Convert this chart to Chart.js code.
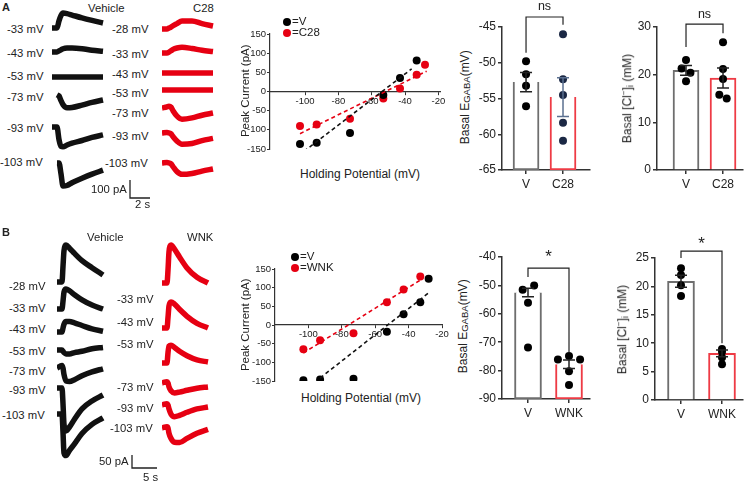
<!DOCTYPE html>
<html>
<head>
<meta charset="utf-8">
<script src="https://cdn.jsdelivr.net/npm/chart.js@4.4.1/dist/chart.umd.min.js"></script>
<style>
  body { margin: 0; background: #fff; }
  #fig { position: relative; width: 750px; height: 482px; overflow: hidden; font-family: "Liberation Sans", Arial, sans-serif; color: #222; }
  #fig canvas { position: absolute; }
  .t { position: absolute; white-space: nowrap; line-height: 1; }
  .dot { display: inline-block; width: 8px; height: 8px; border-radius: 50%; vertical-align: -1px; margin-right: 1px; }
</style>
</head>
<body>
<div id="fig"></div>
<script>
// ---- trace data (pA) ----
const aTime = [0, 0.5, 0.7, 0.9, 1.1, 1.5, 2.0, 3.0, 4.0, 5.1];      // s
const aVehMv = [-33, -43, -53, -73, -93, -103];
const aVehTraces = [
  [0, 0, 40, 70, 83, 80, 72, 56, 42, 28],
  [0, 0, 6, 12, 18, 22, 22, 18, 10, 4],
  [0, 0, 0, 0, 0, 0, 0, 0, 0, 0],
  [null, 12, 6, -20, -42, -60, -58, -45, -30, -17],
  [0, 0, -70, -108, -110, -100, -90, -75, -58, -44],
  [null, 0, 0, -60, -128, -125, -110, -85, -62, -40]
];
const aC28Mv = [-28, -33, -43, -53, -73, -93, -103];
const aC28Traces = [
  [0, 0, 5, 10, 18, 30, 45, 45, 30, 17],
  [0, 0, 5, 12, 20, 28, 32, 25, 15, 8],
  [0, 0, 0, 0, 0, 0, 0, 0, 0, 0],
  [0, 0, 0, 0, 0, 0, 0, 0, 0, 0],
  [0, 6, 10, 5, -15, -45, -62, -55, -40, -28],
  [0, 3, 0, -5, -20, -45, -62, -58, -42, -30],
  [0, 3, 0, -5, -20, -48, -63, -58, -45, -33]
];
const bTime = [0, 1.0, 1.2, 1.4, 1.8, 2.5, 3.5, 5.0, 7.0, 9.2];      // s
const bVehMv = [-28, -33, -43, -53, -73, -93, -103];
const bVehTraces = [
  [0, 0, 60, 120, 142, 130, 110, 82, 55, 27],
  [0, 0, 30, 65, 77, 70, 55, 35, 15, 0],
  [0, 0, 15, 30, 40, 40, 35, 25, 12, 3],
  [0, 0, -5, -10, -15, -15, -10, -5, 5, 10],
  [0, 10, 0, -25, -50, -52, -45, -30, -15, -3],
  [0, 0, -60, -140, -165, -150, -120, -80, -50, -27],
  [0, 0, -70, -150, -160, -140, -115, -75, -40, -15]
];
const bWnkMv = [-33, -43, -53, -73, -93, -103];
const bWnkTraces = [
  [0, 0, 50, 120, 146, 130, 100, 58, 22, 0],
  [0, 0, 40, 85, 100, 92, 72, 45, 18, 0],
  [0, 0, 40, 65, 68, 60, 45, 28, 12, 4],
  [0, 5, 0, -15, -30, -38, -35, -28, -20, -15],
  [0, 5, 0, -15, -35, -45, -40, -28, -15, -8],
  [0, 5, 0, -20, -40, -55, -56, -40, -20, -5]
];

// ---- I-V data ----
const ivXTicks = [-100, -80, -60, -40, -20];
const ivYTicks = [-150, -100, -50, 0, 50, 100, 150];
const ivAVoltV = [-103, -93, -73, -53, -43, -33];
const ivACurV = [-137, -134, -108, -9, 35, 81];
const ivAVoltC28 = [-103, -93, -73, -53, -43, -33, -28];
const ivACurC28 = [-90, -86, -71, -18, 8, 44, 70];
const ivAFitV = [[-100.6, -156], [-36, 59]];
const ivAFitC28 = [[-103, -110], [-27, 53]];
const ivBVoltV = [-103, -93, -73, -53, -43, -33, -28];
const ivBCurV = [-148, -146, -144, -18, 29, 61, 124];
const ivBVoltW = [-103, -93, -73, -53, -43, -33];
const ivBCurW = [-65, -41, -22, 61, 95, 130];
const ivBFitV = [[-93, -142], [-28, 86]];
const ivBFitW = [[-103, -75], [-32, 123]];

// ---- bar data ----
const aGroups = ['V', 'C28'];
const bGroups = ['V', 'WNK'];
const aEgabaTicks = [-65, -60, -55, -50, -45];
const aEgabaMean = [-52.7, -54.8];
const aEgabaSem = [1.35, 2.7];
const aEgabaV = [-49.8, -51.6, -53.2, -56.1];
const aEgabaC28 = [-46.0, -52.3, -54.5, -58.4, -60.9];
const aClTicks = [0, 10, 20, 30];
const aClMean = [20.9, 19.3];
const aClSem = [1.0, 2.1];
const aClV = [23.1, 21.3, 20.4, 18.6];
const aClC28 = [26.8, 21.2, 19.1, 15.8, 15.0];
const bEgabaTicks = [-90, -80, -70, -60, -50, -40];
const bEgabaMean = [-52.5, -77.8];
const bEgabaSem = [1.5, 1.5];
const bEgabaV = [-51.5, -50.0, -56.1, -71.9];
const bEgabaWnk = [-76.1, -74.9, -76.1, -80.2, -85.1];
const bClTicks = [0, 5, 10, 15, 20, 25];
const bClMean = [20.9, 8.2];
const bClSem = [1.05, 0.6];
const bClV = [23.2, 22.0, 20.2, 18.3];
const bClWnk = [9.0, 8.5, 7.5, 6.3];

const RED = '#e60012';
const AX = '#333';
const FONT = '"Liberation Sans", Arial, sans-serif';
Chart.defaults.font.family = FONT;
Chart.defaults.animation = false;
Chart.defaults.events = [];
Chart.defaults.plugins.legend.display = false;
Chart.defaults.plugins.tooltip.enabled = false;

const fig = document.getElementById('fig');

function makeCanvas(b) {
  const c = document.createElement('canvas');
  c.width = b.w; c.height = b.h;
  c.style.left = b.x + 'px'; c.style.top = b.y + 'px';
  fig.appendChild(c);
  return c;
}

// text placed by anchor point; positions rounded to whole pixels so it stays crisp
function txt(html, x, y, align, size, rotate) {
  const d = document.createElement('div');
  d.className = 't';
  d.innerHTML = html;
  d.style.fontSize = (size || 11.3) + 'px';
  fig.appendChild(d);
  const w = d.offsetWidth, h = d.offsetHeight;
  const dx = align === 'right' ? w : align === 'center' ? w / 2 : 0;
  const left = rotate ? x - w / 2 : x - dx;
  d.style.left = Math.round(left) + 'px';
  d.style.top = Math.round(y - h / 2) + 'px';
  if (rotate) d.style.transform = 'rotate(-90deg)';
  return d;
}

// stacked current traces, each row shifted to its baseline pixel
function traceChart(b, time, traces, rows, color, pxS, pxPA, bar) {
  const datasets = traces.map((tr, k) => ({
    data: time.map((t, i) => ({ x: t, y: tr[i] === null ? null : tr[i] - (rows[k] - b.y) / pxPA })),
    borderColor: color, borderWidth: 5.5, pointRadius: 0,
    cubicInterpolationMode: 'monotone', clip: false
  }));
  if (bar) {
    const bx = (bar.x - b.x) / pxS, by = -(bar.y - b.y) / pxPA;
    datasets.push({
      data: [{ x: bx, y: by + bar.pA }, { x: bx, y: by }, { x: bx + bar.s, y: by }],
      borderColor: '#222', borderWidth: 1.3, pointRadius: 0, tension: 0, clip: false
    });
  }
  new Chart(makeCanvas(b), {
    type: 'line',
    data: { datasets },
    options: {
      responsive: false,
      layout: { padding: 0 },
      scales: {
        x: { type: 'linear', display: false, min: 0, max: b.w / pxS },
        y: { type: 'linear', display: false, min: -b.h / pxPA, max: 0 }
      }
    }
  });
}

function ivChart(b, xMin, xMax, sets, fits) {
  const datasets = [];
  fits.forEach(f => datasets.push({
    type: 'line', data: f.pts.map(p => ({ x: p[0], y: p[1] })),
    borderColor: f.color, borderWidth: 1.6, borderDash: [4, 3], pointRadius: 0, tension: 0
  }));
  sets.forEach(s => datasets.push({
    type: 'scatter', data: s.x.map((v, i) => ({ x: v, y: s.y[i] })),
    pointRadius: 4, pointBackgroundColor: s.color, pointBorderWidth: 0
  }));
  const tickFont = { size: 9.5 };
  new Chart(makeCanvas(b), {
    type: 'scatter',
    data: { datasets },
    options: {
      responsive: false,
      layout: { padding: 10 },
      scales: {
        x: {
          type: 'linear', position: { y: 0 }, min: xMin, max: xMax,
          afterBuildTicks: s => { s.ticks = ivXTicks.map(v => ({ value: v })); },
          ticks: { font: tickFont, color: '#222', padding: 1, maxRotation: 0 },
          grid: { drawOnChartArea: false, tickLength: 3, color: AX },
          border: { color: AX, width: 1.2 }
        },
        y: {
          type: 'linear', min: -150, max: 150,
          afterBuildTicks: s => { s.ticks = ivYTicks.map(v => ({ value: v })); },
          afterFit: s => { s.width = 30; },
          ticks: { font: tickFont, color: '#222', padding: 1 },
          grid: { drawOnChartArea: false, tickLength: 3, color: AX },
          border: { color: AX, width: 1.2 }
        }
      }
    }
  });
}

const barExtras = {
  id: 'barExtras',
  afterDatasetsDraw(chart, args, o) {
    const { ctx } = chart;
    const x = chart.scales.x, y = chart.scales.y;
    ctx.save();
    ctx.lineWidth = 1.5;
    o.means.forEach((m, i) => {
      const px = x.getPixelForValue(i);
      const hi = y.getPixelForValue(m + o.sems[i]), lo = y.getPixelForValue(m - o.sems[i]);
      ctx.strokeStyle = o.errColors[i];
      ctx.beginPath();
      ctx.moveTo(px, hi); ctx.lineTo(px, lo);
      ctx.moveTo(px - 6, hi); ctx.lineTo(px + 6, hi);
      ctx.moveTo(px - 6, lo); ctx.lineTo(px + 6, lo);
      ctx.stroke();
    });
    const br = o.bracket;
    const x0 = x.getPixelForValue(0), x1 = x.getPixelForValue(1);
    ctx.strokeStyle = '#222';
    ctx.lineWidth = 1.2;
    ctx.beginPath();
    ctx.moveTo(x0, y.getPixelForValue(br.left));
    ctx.lineTo(x0, y.getPixelForValue(br.top));
    ctx.lineTo(x1, y.getPixelForValue(br.top));
    ctx.lineTo(x1, y.getPixelForValue(br.right));
    ctx.stroke();
    ctx.fillStyle = '#222';
    ctx.font = br.size + 'px ' + FONT;
    ctx.textAlign = 'center';
    ctx.textBaseline = 'alphabetic';
    ctx.fillText(br.text, (x0 + x1) / 2, y.getPixelForValue(br.label));
    ctx.restore();
  }
};

function barChart(b, c) {
  const datasets = [{
    type: 'bar',
    data: c.means.map((m, i) => ({ x: i, y: [c.yTicks[0], m] })),
    backgroundColor: '#fff', borderColor: ['#6e6e6e', '#ee3b45'], borderWidth: 2,
    borderSkipped: 'bottom', barThickness: c.barW, order: 2
  }];
  c.points.forEach((pts, g) => datasets.push({
    type: 'scatter',
    data: pts.map((v, i) => ({ x: g + (c.jitter ? c.jitter[g][i] : 0), y: v })),
    pointRadius: 4, pointBackgroundColor: c.pointColors[g], pointBorderWidth: 0, order: 1
  }));
  new Chart(makeCanvas(b), {
    type: 'bar',
    data: { datasets },
    plugins: [barExtras],
    options: {
      responsive: false,
      layout: { padding: c.pad },
      plugins: {
        barExtras: { means: c.means, sems: c.sems, errColors: c.errColors, bracket: c.bracket }
      },
      scales: {
        x: {
          type: 'linear', min: c.xMin, max: c.xMax, offset: false,
          afterBuildTicks: s => { s.ticks = c.groups.map((g, i) => ({ value: i })); },
          afterFit: s => { s.height = 20; },
          ticks: { callback: v => c.groups[v], font: { size: 12 }, color: '#222', padding: 3, maxRotation: 0, autoSkip: false },
          grid: { drawOnChartArea: false, offset: false, tickLength: 4, color: AX, lineWidth: 1.5 },
          border: { color: AX, width: 1.5 }
        },
        y: {
          type: 'linear', min: c.yTicks[0], max: c.yTicks[c.yTicks.length - 1],
          afterBuildTicks: s => { s.ticks = c.yTicks.map(v => ({ value: v })); },
          afterFit: s => { s.width = 30; },
          ticks: { font: { size: 12 }, color: '#222', padding: 2 },
          grid: { drawOnChartArea: false, tickLength: 4, color: AX, lineWidth: 1.5 },
          border: { color: AX, width: 1.5 }
        }
      }
    }
  });
}

const egabaTitle = 'Basal E<span style="font-size:9.5px;vertical-align:-1px">GABA</span>(mV)';
const clTitle = 'Basal [Cl<sup style="font-size:8px">\u2212</sup>]<span style="font-size:9px;vertical-align:-2px">i</span> (mM)';

// ---------- panel A ----------
txt('<b>A</b>', 2, 7, 'left', 11);
txt('Vehicle', 106, 8, 'center');
txt('C28', 203, 8, 'center');
const aVehRows = [28, 52, 77, 97, 127, 163];
const aVehLabelY = [29, 53, 76, 97, 128, 162];
const aC28Rows = [29, 53, 73, 90, 108, 133, 163];
const aC28LabelY = [29, 54, 74, 93, 113, 136, 163];
aVehMv.forEach((v, i) => txt(v + ' mV', 43, aVehLabelY[i], 'right'));
aC28Mv.forEach((v, i) => txt(v + ' mV', 148, aC28LabelY[i], 'right'));
traceChart({ x: 52, y: 0, w: 105, h: 215 }, aTime, aVehTraces, aVehRows, '#111', 10, 0.18,
  { x: 130, y: 198, pA: 100, s: 2 });
traceChart({ x: 162, y: 0, w: 60, h: 215 }, aTime, aC28Traces, aC28Rows, RED, 10, 0.18);
txt('100 pA', 127, 189, 'right');
txt('2 s', 142.5, 204, 'center');

ivChart({ x: 230, y: 24, w: 220, h: 135 }, -121, -19,
  [{ x: ivAVoltV, y: ivACurV, color: '#000' }, { x: ivAVoltC28, y: ivACurC28, color: RED }],
  [{ pts: ivAFitV, color: '#111' }, { pts: ivAFitC28, color: RED }]);
txt('<span class="dot" style="background:#000"></span>=V', 283, 22, 'left', 11.5);
txt('<span class="dot" style="background:' + RED + '"></span>=C28', 283, 33, 'left', 11.5);
txt('Peak Current (pA)', 245, 91, 'center', 11.5, true);
txt('Holding Potential (mV)', 360, 174, 'center', 12);

barChart({ x: 472, y: 0, w: 126, h: 195 }, {
  groups: aGroups, means: aEgabaMean, sems: aEgabaSem, yTicks: aEgabaTicks,
  points: [aEgabaV, aEgabaC28], pointColors: ['#000', '#1b2844'], errColors: ['#222', '#5b7090'],
  xMin: -0.65, xMax: 1.73, barW: 26, pad: { left: 0, top: 27, right: 8, bottom: 5 },
  bracket: { left: -48.6, top: -43.6, right: -44.7, label: -42.6, text: 'ns', size: 12.5 }
});
txt(egabaTitle, 465, 97, 'center', 12, true);

barChart({ x: 627, y: 0, w: 122, h: 195 }, {
  groups: aGroups, means: aClMean, sems: aClSem, yTicks: aClTicks,
  points: [aClV, aClC28], pointColors: ['#000', '#000'], errColors: ['#222', '#222'],
  jitter: [[0, -0.12, 0.12, 0], [0, 0, 0, -0.1, 0.1]],
  xMin: -0.784, xMax: 1.54, barW: 26, pad: { left: 0, top: 27, right: 6, bottom: 5 },
  bracket: { left: 25.8, top: 30.6, right: 28.7, label: 31.9, text: 'ns', size: 12.5 }
});
txt(clTitle, 627, 98, 'center', 12, true);

// ---------- panel B ----------
txt('<b>B</b>', 2, 232, 'left', 11);
txt('Vehicle', 105, 237, 'center');
txt('WNK', 200, 237, 'center');
const bVehRows = [282, 309, 332, 350, 368, 388, 414];
const bVehLabelY = [286, 308, 329, 351, 371, 390, 415];
const bWnkRows = [283, 328, 363, 383, 405, 428];
const bWnkLabelY = [299, 322, 344, 387, 408, 428];
bVehMv.forEach((v, i) => txt(v + ' mV', 45, bVehLabelY[i], 'right'));
bWnkMv.forEach((v, i) => txt(v + ' mV', 153, bWnkLabelY[i], 'right'));
traceChart({ x: 57, y: 225, w: 105, h: 257 }, bTime, bVehTraces, bVehRows, '#111', 5, 0.26,
  { x: 132, y: 468, pA: 50, s: 5 });
traceChart({ x: 162, y: 225, w: 60, h: 257 }, bTime, bWnkTraces, bWnkRows, RED, 5, 0.26);
txt('50 pA', 129, 461, 'right');
txt('5 s', 150, 477, 'center');

ivChart({ x: 235, y: 259, w: 217, h: 132 }, -120, -20,
  [{ x: ivBVoltV, y: ivBCurV, color: '#000' }, { x: ivBVoltW, y: ivBCurW, color: RED }],
  [{ pts: ivBFitV, color: '#111' }, { pts: ivBFitW, color: RED }]);
txt('<span class="dot" style="background:#000"></span>=V', 291, 257, 'left', 11.5);
txt('<span class="dot" style="background:' + RED + '"></span>=WNK', 291, 268, 'left', 11.5);
txt('Peak Current (pA)', 245, 325, 'center', 11.5, true);
txt('Holding Potential (mV)', 361, 398, 'center', 12);

barChart({ x: 472, y: 225, w: 126, h: 199 }, {
  groups: bGroups, means: bEgabaMean, sems: bEgabaSem, yTicks: bEgabaTicks,
  points: [bEgabaV, bEgabaWnk], pointColors: ['#000', '#000'], errColors: ['#222', '#222'],
  jitter: [[-0.13, 0.15, 0, 0], [-0.27, 0, 0.27, 0, 0]],
  xMin: -0.634, xMax: 1.512, barW: 27, pad: { left: 0, top: 32, right: 8, bottom: 5 },
  bracket: { left: -47.0, top: -43.9, right: -73.5, label: -41.8, text: '*', size: 17 }
});
txt(egabaTitle, 463, 326, 'center', 12, true);

barChart({ x: 625, y: 225, w: 124, h: 200 }, {
  groups: bGroups, means: bClMean, sems: bClSem, yTicks: bClTicks,
  points: [bClV, bClWnk], pointColors: ['#000', '#000'], errColors: ['#222', '#222'],
  xMin: -0.634, xMax: 1.512, barW: 27, pad: { left: 0, top: 33, right: 6, bottom: 5 },
  bracket: { left: 25.0, top: 26.2, right: 10.0, label: 26.6, text: '*', size: 17 }
});
txt(clTitle, 622, 329, 'center', 12, true);
</script>
</body>
</html>
